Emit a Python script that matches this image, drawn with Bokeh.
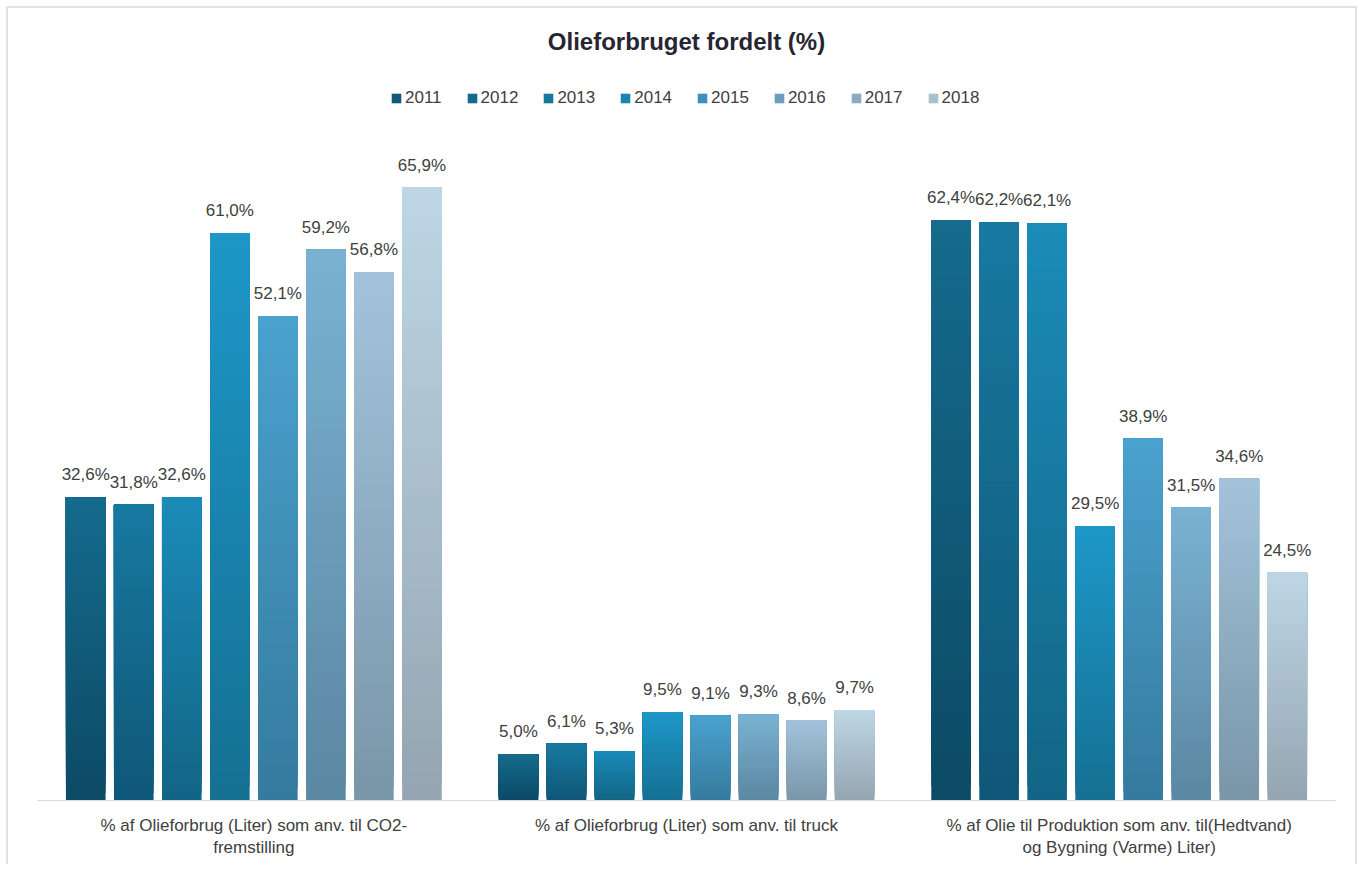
from bokeh.plotting import figure
from bokeh.models import ColumnDataSource, FactorRange, Legend, LegendItem, Label
from bokeh.transform import dodge
from bokeh.core.properties import value
from bokeh.embed import file_html
from bokeh.resources import INLINE

categories = [
    "% af Olieforbrug (Liter) som anv. til CO2-\nfremstilling",
    "% af Olieforbrug (Liter) som anv. til truck",
    "% af Olie til Produktion som anv. til(Hedtvand)\nog Bygning (Varme) Liter)",
]
years = ["2011", "2012", "2013", "2014", "2015", "2016", "2017", "2018"]
values = {
    "2011": [32.6, 5.0, 62.4],
    "2012": [31.8, 6.1, 62.2],
    "2013": [32.6, 5.3, 62.1],
    "2014": [61.0, 9.5, 29.5],
    "2015": [52.1, 9.1, 38.9],
    "2016": [59.2, 9.3, 31.5],
    "2017": [56.8, 8.6, 34.6],
    "2018": [65.9, 9.7, 24.5],
}
top_colors = ["#156b8d", "#1879a1", "#1b8bb8", "#1d98c8", "#4aa2cf", "#7ab2d2", "#a1c3db", "#bed6e5"]
bottom_colors = ["#0c4a65", "#0f5777", "#126585", "#156f93", "#357a9e", "#5b87a2", "#7a96a9", "#94a5b1"]
legend_colors = ["#0f5a78", "#136a8e", "#17789f", "#1985b3", "#3e8fbb", "#6a9fbf", "#8cabc1", "#abc0cf"]

def hex2rgb(h):
    h = h.lstrip("#")
    return tuple(int(h[i:i + 2], 16) for i in (0, 2, 4))

def lerp(c1, c2, t):
    a, b = hex2rgb(c1), hex2rgb(c2)
    return "#%02x%02x%02x" % tuple(round(a[i] + (b[i] - a[i]) * t) for i in range(3))

p = figure(
    width=1351, height=858,
    x_range=FactorRange(factors=categories),
    y_range=(0, 85.15),
    output_backend="svg", toolbar_location=None,
    min_border_left=29, min_border_right=24, min_border_top=0, min_border_bottom=66,
)
p.styles = {"border": "2px solid #e2e1ea", "border-bottom": "none", "margin": "6px 0 0 6px"}
p.outline_line_color = None
p.grid.visible = False
p.yaxis.visible = False
p.xaxis.axis_line_color = "#d9d9d9"
p.xaxis.axis_line_width = 1
p.xaxis.major_tick_line_color = None
p.xaxis.minor_tick_line_color = None
p.xaxis.major_label_text_font = "Liberation Sans"
p.xaxis.major_label_text_font_size = "17px"
p.xaxis.major_label_text_color = "#404040"
p.xaxis.major_label_standoff = 9

N = 40
step = 0.111
width = 0.0915
legend_items = []
for i, yr in enumerate(years):
    off = (i - 3.5) * step
    xs, bots, tops, cols = [], [], [], []
    for c, v in zip(categories, values[yr]):
        for k in range(N):
            xs.append(c)
            bots.append(v * k / N)
            tops.append(v)
            cols.append(lerp(bottom_colors[i], top_colors[i], (k + 0.5) / N))
    src = ColumnDataSource(dict(x=xs, bottom=bots, top=tops, color=cols))
    p.vbar(x=dodge("x", off, range=p.x_range), bottom="bottom", top="top", width=width,
           fill_color="color", line_color=None, source=src)
    lsrc = ColumnDataSource(dict(x=categories, y=values[yr],
                                 t=[("%.1f" % v).replace(".", ",") + "%" for v in values[yr]]))
    p.text(x=dodge("x", off, range=p.x_range), y="y", text="t", source=lsrc,
           text_align="center", text_baseline="bottom", y_offset=-13,
           text_font=value("Liberation Sans"), text_font_size="17px", text_color="#404040")
    r = p.vbar(x=[categories[0]], bottom=[0], top=[0], width=0, fill_color=legend_colors[i],
               line_color=None)
    legend_items.append(LegendItem(label=yr, renderers=[r]))

legend = Legend(items=legend_items, orientation="horizontal", location=(353, 692),
                label_text_font="Liberation Sans", label_text_font_size="17px",
                label_text_color="#404040", glyph_width=12, glyph_height=12,
                spacing=24, label_standoff=3, border_line_color=None, background_fill_alpha=0,
                margin=0, padding=4)
p.add_layout(legend, "center")

p.add_layout(Label(x=649, y=759, x_units="screen", y_units="screen",
                   text="Olieforbruget fordelt (%)", text_align="center", text_baseline="middle",
                   text_font="Liberation Sans", text_font_size="24px",
                   text_font_style="bold", text_color="#262633"))

open("out.html", "w").write(file_html(p, INLINE))
